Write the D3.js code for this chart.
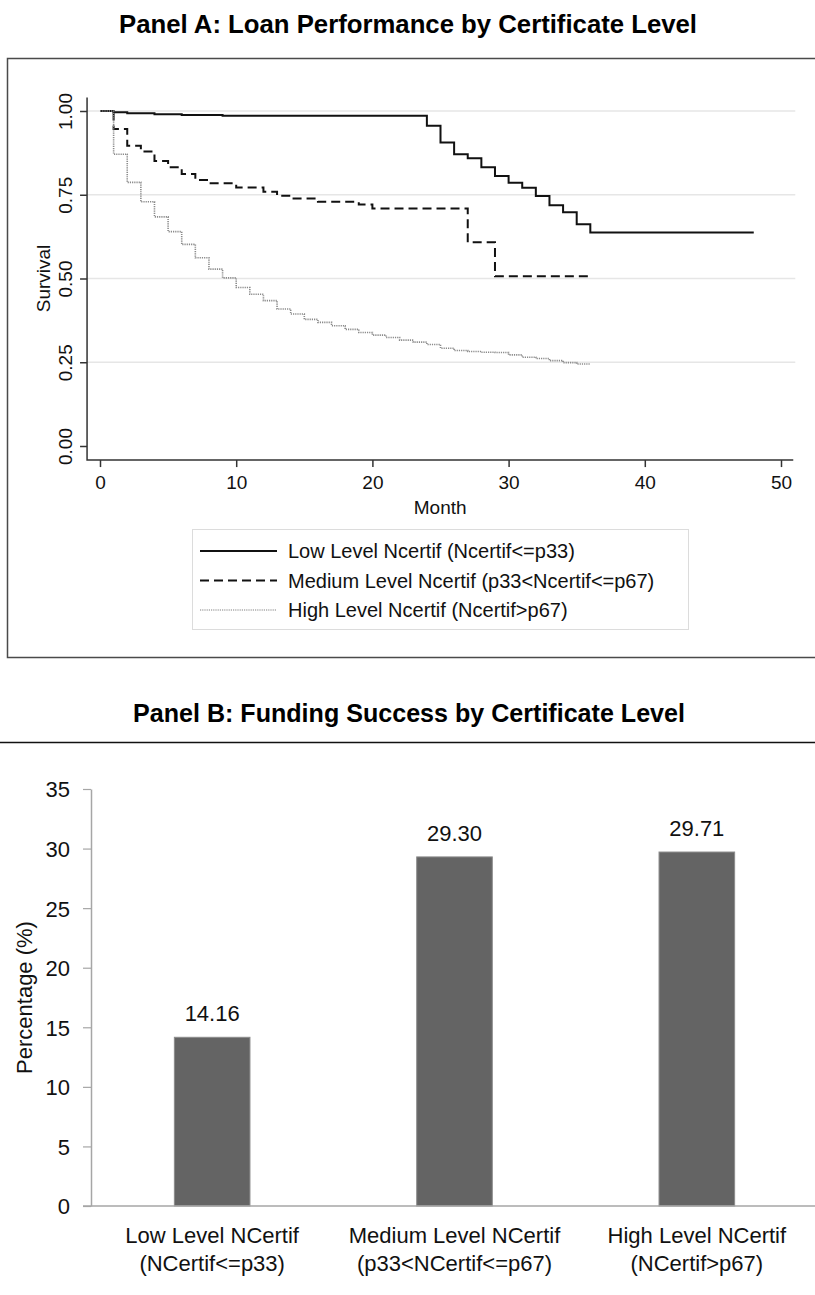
<!DOCTYPE html>
<html>
<head>
<meta charset="utf-8">
<script src="https://cdn.jsdelivr.net/npm/d3@7"></script>
<style>
  body { margin: 0; background: #fff; }
  svg { display: block; font-family: "Liberation Sans", Arial, Helvetica, sans-serif; }
</style>
</head>
<body>
<svg id="chart" width="815" height="1295"></svg>
<script>
// Panel A: Kaplan-Meier step curves (month, survival)
const lowMonths = [0, 1, 2, 4, 6, 9, 24, 25, 26, 27, 28, 29, 30, 31, 32, 33, 34, 35, 36, 48];
const lowSurvival = [1.0, 0.996, 0.993, 0.99, 0.988, 0.986, 0.956, 0.906, 0.871, 0.859, 0.832, 0.806, 0.786, 0.771, 0.746, 0.719, 0.698, 0.662, 0.637, 0.637];

const mediumMonths = [0, 1, 2, 3, 4, 5, 6, 7, 8, 10, 12, 13, 14, 16, 19, 20, 27, 29, 36];
const mediumSurvival = [1.0, 0.946, 0.896, 0.879, 0.851, 0.832, 0.812, 0.794, 0.784, 0.772, 0.759, 0.747, 0.739, 0.729, 0.721, 0.709, 0.608, 0.507, 0.507];

const highMonths = [0, 1, 2, 3, 4, 5, 6, 7, 8, 9, 10, 11, 12, 13, 14, 15, 16, 17, 18, 19, 20, 21, 22, 23, 24, 25, 26, 27, 28, 29, 30, 31, 32, 33, 34, 35, 36];
const highSurvival = [1.0, 0.871, 0.787, 0.729, 0.684, 0.64, 0.602, 0.562, 0.528, 0.502, 0.473, 0.453, 0.434, 0.409, 0.394, 0.378, 0.369, 0.359, 0.348, 0.339, 0.331, 0.324, 0.316, 0.31, 0.303, 0.292, 0.285, 0.282, 0.28, 0.279, 0.272, 0.265, 0.261, 0.255, 0.249, 0.245, 0.245];

const survivalTicks = [0, 0.25, 0.5, 0.75, 1];
const monthTicks = [0, 10, 20, 30, 40, 50];
const legendLabels = [
  "Low Level Ncertif (Ncertif<=p33)",
  "Medium Level Ncertif (p33<Ncertif<=p67)",
  "High Level Ncertif (Ncertif>p67)",
];

// Panel B: funding success bars
const categoryLines = [
  ["Low Level NCertif", "(NCertif<=p33)"],
  ["Medium Level NCertif", "(p33<NCertif<=p67)"],
  ["High Level NCertif", "(NCertif>p67)"],
];
const fundingPct = [14.16, 29.3, 29.71];
const pctTicks = [0, 5, 10, 15, 20, 25, 30, 35];

const svg = d3.select("#chart");

function renderPanelA() {
  const g = svg.append("g").attr("class", "panelA");

  g.append("text")
    .attr("x", 408).attr("y", 33)
    .attr("text-anchor", "middle")
    .attr("font-size", 25).attr("font-weight", "bold")
    .attr("textLength", 578).attr("lengthAdjust", "spacingAndGlyphs")
    .text("Panel A: Loan Performance by Certificate Level");

  // outer frame
  g.append("rect")
    .attr("x", 7.5).attr("y", 58.5)
    .attr("width", 830).attr("height", 599)
    .attr("fill", "none").attr("stroke", "#4a4a4a").attr("stroke-width", 1.5);

  const x = d3.scaleLinear().domain([0, 50]).range([100, 781]);
  const y = d3.scaleLinear().domain([0, 1]).range([446, 111]);
  const left = x(-0.95), right = x(50.9);

  // gridlines
  g.selectAll("line.grid")
    .data(survivalTicks.filter((d) => d > 0))
    .join("line")
    .attr("class", "grid")
    .attr("x1", left).attr("x2", x(51.05))
    .attr("y1", (d) => y(d)).attr("y2", (d) => y(d))
    .attr("stroke", "#e6e6e6").attr("stroke-width", 1.5);

  // y axis
  const yAxis = g.append("g")
    .attr("transform", `translate(${left},0)`)
    .call(d3.axisLeft(y).tickValues(survivalTicks).tickFormat(d3.format(".2f")).tickSize(7).tickSizeOuter(0));
  yAxis.select(".domain").remove();
  yAxis.selectAll(".tick line").attr("stroke", "#333").attr("stroke-width", 1.5);
  yAxis.selectAll(".tick text")
    .attr("transform", "rotate(-90)")
    .attr("x", 0).attr("y", -15).attr("dy", 0)
    .attr("text-anchor", "middle")
    .attr("font-size", 19).attr("fill", "#111")
    .style("font-family", "inherit");

  // x axis
  const xAxis = g.append("g")
    .attr("transform", `translate(0,${y(-0.042)})`)
    .call(d3.axisBottom(x).tickValues(monthTicks).tickSize(7).tickSizeOuter(0));
  xAxis.select(".domain").remove();
  xAxis.selectAll(".tick line").attr("stroke", "#333").attr("stroke-width", 1.5);
  xAxis.selectAll(".tick text")
    .attr("y", 29).attr("dy", 0)
    .attr("font-size", 19).attr("fill", "#111")
    .style("font-family", "inherit");

  // axis lines
  g.append("path")
    .attr("d", `M${left},${y(1.04)}V${y(-0.042)}H${right}`)
    .attr("fill", "none").attr("stroke", "#333").attr("stroke-width", 1.5);

  g.append("text")
    .attr("x", (left + right) / 2).attr("y", 514)
    .attr("text-anchor", "middle").attr("font-size", 19).attr("fill", "#111")
    .text("Month");
  g.append("text")
    .attr("transform", `translate(50,${y(0.5)}) rotate(-90)`)
    .attr("text-anchor", "middle").attr("font-size", 19).attr("fill", "#111")
    .text("Survival");

  // curves
  const line = d3.line().curve(d3.curveStepAfter).x((d) => x(d[0])).y((d) => y(d[1]));
  const series = [
    { pts: d3.zip(lowMonths, lowSurvival), color: "#111", width: 2, dash: null },
    { pts: d3.zip(mediumMonths, mediumSurvival), color: "#111", width: 2, dash: "9,5" },
    { pts: d3.zip(highMonths, highSurvival), color: "#8a8a8a", width: 1.6, dash: "1.2,1" },
  ];
  g.selectAll("path.curve")
    .data(series)
    .join("path")
    .attr("class", "curve")
    .attr("d", (d) => line(d.pts))
    .attr("fill", "none")
    .attr("stroke", (d) => d.color)
    .attr("stroke-width", (d) => d.width)
    .attr("stroke-dasharray", (d) => d.dash);

  // legend
  const legend = g.append("g");
  legend.append("rect")
    .attr("x", 192.5).attr("y", 529.5).attr("width", 496).attr("height", 100)
    .attr("fill", "#fff").attr("stroke", "#dcdcdc").attr("stroke-width", 1);
  const rows = legend.selectAll("g.row")
    .data(series.map((s, i) => ({ ...s, label: legendLabels[i] })))
    .join("g")
    .attr("class", "row")
    .attr("transform", (d, i) => `translate(0,${551 + i * 29.5})`);
  rows.append("line")
    .attr("x1", 200).attr("x2", 277)
    .attr("stroke", (d) => (d.dash === "1.2,1" ? "#aaa" : d.color))
    .attr("stroke-width", (d) => d.width)
    .attr("stroke-dasharray", (d) => d.dash);
  rows.append("text")
    .attr("x", 288).attr("y", 7)
    .attr("font-size", 20).attr("fill", "#111")
    .text((d) => d.label);
}

function renderPanelB() {
  const g = svg.append("g").attr("class", "panelB");

  g.append("text")
    .attr("x", 409).attr("y", 722)
    .attr("text-anchor", "middle")
    .attr("font-size", 25).attr("font-weight", "bold")
    .attr("textLength", 552).attr("lengthAdjust", "spacingAndGlyphs")
    .text("Panel B: Funding Success by Certificate Level");

  g.append("line")
    .attr("x1", 0).attr("x2", 815).attr("y1", 742.5).attr("y2", 742.5)
    .attr("stroke", "#111").attr("stroke-width", 1.6);

  const x = d3.scaleBand().domain(d3.range(fundingPct.length)).range([91, 818]).padding(0);
  const y = d3.scaleLinear().domain([0, 35]).range([1206, 789]);
  const barW = x.bandwidth() * 0.312;

  // y axis
  const yAxis = g.append("g")
    .attr("transform", `translate(${x.range()[0]},0)`)
    .call(d3.axisLeft(y).tickValues(pctTicks).tickSize(8).tickSizeOuter(0));
  yAxis.select(".domain").attr("stroke", "#a6a6a6").attr("stroke-width", 1.5);
  yAxis.selectAll(".tick line").attr("stroke", "#a6a6a6").attr("stroke-width", 1.2);
  yAxis.selectAll(".tick text")
    .attr("x", -21).attr("dy", "0.36em")
    .attr("font-size", 22).attr("fill", "#111")
    .style("font-family", "inherit");

  g.append("text")
    .attr("transform", `translate(32,${y(17.5)}) rotate(-90)`)
    .attr("text-anchor", "middle").attr("font-size", 22).attr("fill", "#111")
    .text("Percentage (%)");

  // bars
  g.selectAll("rect.bar")
    .data(fundingPct)
    .join("rect")
    .attr("class", "bar")
    .attr("x", (d, i) => x(i) + (x.bandwidth() - barW) / 2)
    .attr("y", (d) => y(d))
    .attr("width", barW)
    .attr("height", (d) => y(0) - y(d))
    .attr("fill", "#646464").attr("stroke", "#8c8c8c").attr("stroke-width", 1);

  g.selectAll("text.value")
    .data(fundingPct)
    .join("text")
    .attr("class", "value")
    .attr("x", (d, i) => x(i) + x.bandwidth() / 2)
    .attr("y", (d) => y(d) - 16)
    .attr("text-anchor", "middle").attr("font-size", 22).attr("fill", "#111")
    .text((d) => d3.format(".2f")(d));

  // baseline
  g.append("line")
    .attr("x1", 83).attr("x2", 815).attr("y1", y(0)).attr("y2", y(0))
    .attr("stroke", "#a6a6a6").attr("stroke-width", 1.5);

  // category labels
  const cats = g.selectAll("text.cat")
    .data(categoryLines)
    .join("text")
    .attr("class", "cat")
    .attr("text-anchor", "middle").attr("font-size", 22).attr("fill", "#111");
  cats.selectAll("tspan")
    .data((d, i) => d.map((t) => ({ t, i })))
    .join("tspan")
    .attr("x", (d) => x(d.i) + x.bandwidth() / 2)
    .attr("y", (d, j) => 1243 + j * 28)
    .text((d) => d.t);
}

renderPanelA();
renderPanelB();
</script>
</body>
</html>
